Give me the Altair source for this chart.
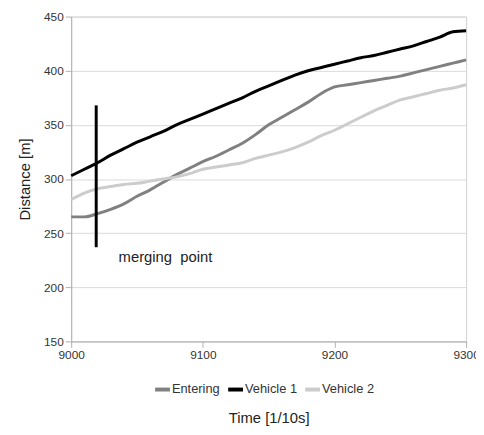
import altair as alt
import pandas as pd

time = [9000, 9010, 9020, 9030, 9040, 9050, 9060, 9070, 9080, 9090, 9100,
        9110, 9120, 9130, 9140, 9150, 9160, 9170, 9180, 9190, 9200,
        9210, 9220, 9230, 9240, 9250, 9260, 9270, 9280, 9290, 9300]
entering = [265, 265, 268, 272, 277, 284, 290, 297, 304, 310, 316,
            321, 327, 333, 341, 350, 357, 364, 371, 379, 385,
            387, 389, 391, 393, 395, 398, 401, 404, 407, 410]
vehicle1 = [303, 309, 315, 322, 328, 334, 339, 344, 350, 355, 360,
            365, 370, 375, 381, 386, 391, 396, 400, 403, 406,
            409, 412, 414, 417, 420, 423, 427, 431, 436, 437]
vehicle2 = [281, 287, 291, 293, 295, 296, 298, 300, 302, 305, 309,
            311, 313, 315, 319, 322, 325, 329, 334, 340, 345,
            351, 357, 363, 368, 373, 376, 379, 382, 384, 387]
series_names = ["Entering", "Vehicle 1", "Vehicle 2"]
series_colors = ["#808080", "#000000", "#cccccc"]

merge_time = [9019]
merge_low = [237]
merge_high = [368]
annot_text = ["merging\u00a0 point"]
annot_time = [9036]
annot_value = [228]

rows = []
for name, vals in zip(series_names, [entering, vehicle1, vehicle2]):
    for t, v in zip(time, vals):
        rows.append({"Time": t, "Distance": v, "Series": name})
df = pd.DataFrame(rows)

FONT = "Liberation Sans"

xscale = alt.Scale(domain=[9000, 9300], nice=False, zero=False)
yscale = alt.Scale(domain=[150, 450], nice=False, zero=False)

lines = alt.Chart(df).mark_line(strokeWidth=3, interpolate="monotone").encode(
    x=alt.X("Time:Q", scale=xscale,
            axis=alt.Axis(title="Time [1/10s]", values=[9000, 9100, 9200, 9300],
                          format="d", grid=False, labelFontSize=12, labelFlush=False,
                          labelColor="#333333", titleFontSize=15,
                          titleFontWeight="normal", titleColor="#222222",
                          titlePadding=51, tickColor="#b0b0b0", tickSize=6,
                          domainColor="#b0b0b0", labelFont=FONT, titleFont=FONT)),
    y=alt.Y("Distance:Q", scale=yscale,
            axis=alt.Axis(title="Distance [m]", values=[150, 200, 250, 300, 350, 400, 450],
                          gridColor="#d9d9d9", labelFontSize=12, labelFlush=False,
                          labelColor="#333333", titleFontSize=15,
                          titleFontWeight="normal", titleColor="#222222",
                          titlePadding=11, tickColor="#b0b0b0", tickSize=6,
                          domainColor="#b0b0b0", labelFont=FONT, titleFont=FONT)),
    color=alt.Color("Series:N",
                    scale=alt.Scale(domain=series_names, range=series_colors),
                    legend=alt.Legend(title=None, orient="none", direction="horizontal",
                                      legendX=83, legendY=368,
                                      symbolType="stroke", symbolStrokeWidth=4,
                                      symbolSize=225, labelFontSize=13,
                                      labelColor="#333333", labelFont=FONT,
                                      labelOffset=0, columnPadding=0)),
)

merge_df = pd.DataFrame({"t": merge_time, "lo": merge_low, "hi": merge_high})
rule = alt.Chart(merge_df).mark_rule(color="#000000", strokeWidth=3).encode(
    x=alt.X("t:Q", scale=xscale),
    y=alt.Y("lo:Q", scale=yscale),
    y2="hi:Q",
)

annot_df = pd.DataFrame({"t": annot_time, "v": annot_value, "txt": annot_text})
text = alt.Chart(annot_df).mark_text(align="left", baseline="middle", fontSize=15,
                                     font=FONT, color="#222222").encode(
    x=alt.X("t:Q", scale=xscale),
    y=alt.Y("v:Q", scale=yscale),
    text="txt:N",
)

chart = alt.layer(lines, rule, text).properties(
    width=400, height=329,
    autosize=alt.AutoSizeParams(type="none"),
    padding={"left": 64, "top": 6, "right": 10, "bottom": 84},
).configure_view(stroke="#d0d0d0")

chart.save("out.html", embed_options={"renderer": "svg", "actions": False})
